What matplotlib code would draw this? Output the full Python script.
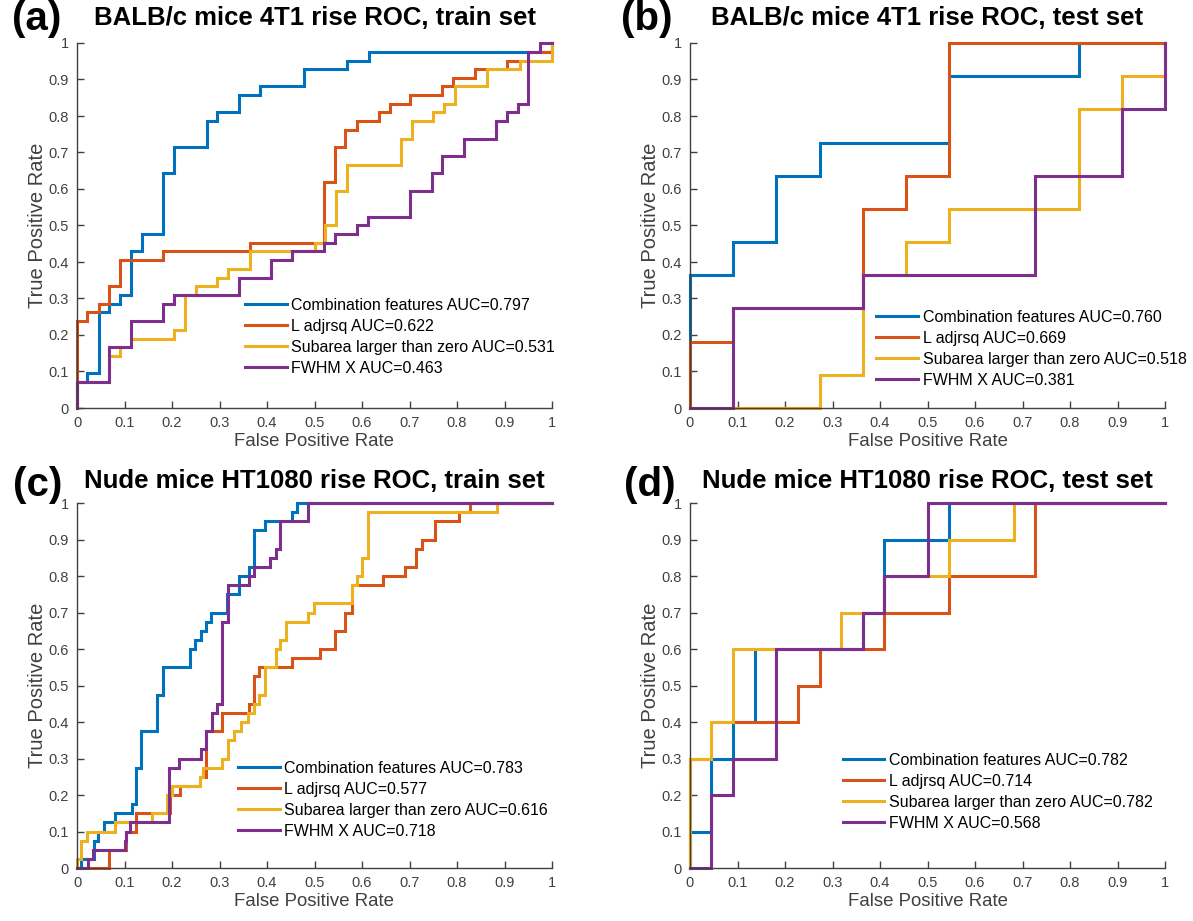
import matplotlib
matplotlib.use("Agg")
import matplotlib.pyplot as plt

plt.rcParams['font.family'] = ['Liberation Sans', 'DejaVu Sans']

# legend labels per panel
a_labels = ["Combination features AUC=0.797", "L adjrsq AUC=0.622",
            "Subarea larger than zero AUC=0.531", "FWHM X AUC=0.463"]
b_labels = ["Combination features AUC=0.760", "L adjrsq AUC=0.669",
            "Subarea larger than zero AUC=0.518", "FWHM X AUC=0.381"]
c_labels = ["Combination features AUC=0.783", "L adjrsq AUC=0.577",
            "Subarea larger than zero AUC=0.616", "FWHM X AUC=0.718"]
d_labels = ["Combination features AUC=0.782", "L adjrsq AUC=0.714",
            "Subarea larger than zero AUC=0.782", "FWHM X AUC=0.568"]

titles = ["BALB/c mice 4T1 rise ROC, train set", "BALB/c mice 4T1 rise ROC, test set",
          "Nude mice HT1080 rise ROC, train set", "Nude mice HT1080 rise ROC, test set"]
panel_tags = ["(a)", "(b)", "(c)", "(d)"]

# ROC step points: fpr where tpr jumps, tpr after the jump
# (a) 4T1 train
a_comb_fpr = [0, 0, 0.02, 0.046, 0.068, 0.091, 0.114, 0.136, 0.182, 0.205, 0.273, 0.295,
              0.341, 0.386, 0.477, 0.568, 0.614, 1]
a_comb_tpr = [0, 0.071, 0.095, 0.262, 0.286, 0.31, 0.429, 0.476, 0.643, 0.714, 0.786, 0.81,
              0.857, 0.881, 0.929, 0.952, 0.976, 1]
a_ladj_fpr = [0, 0, 0.02, 0.046, 0.068, 0.091, 0.182, 0.364, 0.52, 0.543, 0.565, 0.59,
              0.635, 0.658, 0.702, 0.769, 0.792, 0.838, 0.906, 0.95, 1]
a_ladj_tpr = [0, 0.238, 0.262, 0.286, 0.333, 0.405, 0.429, 0.452, 0.619, 0.714, 0.762, 0.786,
              0.81, 0.833, 0.857, 0.881, 0.905, 0.929, 0.952, 0.976, 1]
a_sub_fpr = [0, 0, 0.068, 0.091, 0.114, 0.205, 0.227, 0.25, 0.295, 0.318, 0.364, 0.5,
             0.523, 0.545, 0.568, 0.682, 0.705, 0.75, 0.773, 0.795, 0.864, 0.932, 1]
a_sub_tpr = [0, 0.071, 0.143, 0.167, 0.19, 0.214, 0.31, 0.333, 0.357, 0.381, 0.429, 0.452,
             0.5, 0.595, 0.667, 0.738, 0.786, 0.81, 0.833, 0.881, 0.929, 0.952, 1]
a_fwhm_fpr = [0, 0, 0.068, 0.114, 0.182, 0.205, 0.341, 0.408, 0.453, 0.52, 0.543, 0.59,
              0.612, 0.702, 0.747, 0.769, 0.815, 0.883, 0.906, 0.929, 0.95, 0.974, 1]
a_fwhm_tpr = [0, 0.071, 0.167, 0.238, 0.286, 0.31, 0.357, 0.405, 0.429, 0.452, 0.476, 0.5,
              0.524, 0.595, 0.643, 0.69, 0.738, 0.786, 0.81, 0.833, 0.976, 1, 1]

# (b) 4T1 test
b_comb_fpr = [0, 0, 0.091, 0.182, 0.273, 0.545, 0.818, 1]
b_comb_tpr = [0, 0.364, 0.455, 0.636, 0.727, 0.909, 1, 1]
b_ladj_fpr = [0, 0, 0.091, 0.364, 0.455, 0.545, 1]
b_ladj_tpr = [0, 0.182, 0.273, 0.545, 0.636, 1, 1]
b_sub_fpr = [0, 0.273, 0.364, 0.455, 0.545, 0.818, 0.909, 1]
b_sub_tpr = [0, 0.091, 0.364, 0.455, 0.545, 0.818, 0.909, 1]
b_fwhm_fpr = [0, 0.091, 0.364, 0.727, 0.909, 1]
b_fwhm_tpr = [0, 0.273, 0.364, 0.636, 0.818, 1]

# (c) HT1080 train
c_comb_fpr = [0, 0.008, 0.035, 0.045, 0.057, 0.08, 0.115, 0.124, 0.135, 0.168, 0.18, 0.238,
              0.249, 0.26, 0.271, 0.283, 0.316, 0.34, 0.362, 0.373, 0.396, 0.452, 0.464, 1]
c_comb_tpr = [0, 0.025, 0.075, 0.1, 0.125, 0.15, 0.175, 0.275, 0.375, 0.475, 0.55, 0.6,
              0.625, 0.65, 0.675, 0.7, 0.75, 0.8, 0.825, 0.925, 0.95, 0.975, 1, 1]
c_ladj_fpr = [0, 0.068, 0.104, 0.124, 0.195, 0.216, 0.258, 0.272, 0.305, 0.362, 0.373, 0.384,
              0.452, 0.511, 0.543, 0.565, 0.578, 0.645, 0.691, 0.713, 0.726, 0.754, 0.804,
              0.827, 1]
c_ladj_tpr = [0, 0.05, 0.1, 0.15, 0.2, 0.225, 0.25, 0.375, 0.425, 0.45, 0.525, 0.55,
              0.575, 0.6, 0.65, 0.7, 0.775, 0.8, 0.825, 0.875, 0.9, 0.95, 0.975,
              1, 1]
c_sub_fpr = [0, 0, 0.008, 0.02, 0.08, 0.157, 0.19, 0.2, 0.258, 0.265, 0.305, 0.317, 0.331,
             0.345, 0.361, 0.373, 0.384, 0.395, 0.418, 0.428, 0.441, 0.487, 0.499, 0.578,
             0.59, 0.6, 0.612, 0.885, 1]
c_sub_tpr = [0, 0.025, 0.075, 0.1, 0.125, 0.15, 0.2, 0.225, 0.25, 0.275, 0.3, 0.35, 0.375,
             0.4, 0.425, 0.45, 0.475, 0.55, 0.6, 0.625, 0.675, 0.7, 0.725, 0.775,
             0.8, 0.85, 0.975, 1, 1]
c_fwhm_fpr = [0, 0.023, 0.034, 0.1, 0.104, 0.111, 0.193, 0.215, 0.261, 0.271, 0.284, 0.294,
              0.305, 0.318, 0.362, 0.373, 0.407, 0.419, 0.428, 0.487, 1]
c_fwhm_tpr = [0, 0.025, 0.05, 0.075, 0.1, 0.125, 0.275, 0.3, 0.325, 0.375, 0.425, 0.45,
              0.675, 0.775, 0.8, 0.825, 0.85, 0.875, 0.95, 1, 1]

# (d) HT1080 test
d_comb_fpr = [0, 0, 0.045, 0.091, 0.136, 0.364, 0.409, 0.545, 1]
d_comb_tpr = [0, 0.1, 0.3, 0.4, 0.6, 0.7, 0.9, 1, 1]
d_ladj_fpr = [0, 0, 0.045, 0.227, 0.273, 0.409, 0.545, 0.727, 1]
d_ladj_tpr = [0, 0.3, 0.4, 0.5, 0.6, 0.7, 0.8, 1, 1]
d_sub_fpr = [0, 0, 0.045, 0.091, 0.318, 0.409, 0.545, 0.682, 1]
d_sub_tpr = [0, 0.3, 0.4, 0.6, 0.7, 0.8, 0.9, 1, 1]
d_fwhm_fpr = [0, 0.045, 0.091, 0.182, 0.364, 0.409, 0.5, 1]
d_fwhm_tpr = [0, 0.2, 0.3, 0.6, 0.7, 0.8, 1, 1]

colors = ['#0072BD', '#D95319', '#EDB120', '#7E2F8E']
ticks = [0, 0.1, 0.2, 0.3, 0.4, 0.5, 0.6, 0.7, 0.8, 0.9, 1]
tick_text = ['0', '0.1', '0.2', '0.3', '0.4', '0.5', '0.6', '0.7', '0.8', '0.9', '1']

W, H = 1193, 921
fig = plt.figure(figsize=(W / 100, H / 100), dpi=100)

# axes rectangles in pixels: left, top, width, height
boxes = [(77, 43, 475, 365), (690, 43, 475, 365), (77, 503, 475, 365), (690, 503, 475, 365)]
legend_anchor = [(0.354, 0.302), (0.392, 0.269), (0.339, 0.294), (0.322, 0.316)]
tag_pos = [(37, 19), (647, 19), (38, 485), (650, 485)]
title_y = [18, 18, 481, 481]

curves = [
    [(a_comb_fpr, a_comb_tpr), (a_ladj_fpr, a_ladj_tpr), (a_sub_fpr, a_sub_tpr), (a_fwhm_fpr, a_fwhm_tpr)],
    [(b_comb_fpr, b_comb_tpr), (b_ladj_fpr, b_ladj_tpr), (b_sub_fpr, b_sub_tpr), (b_fwhm_fpr, b_fwhm_tpr)],
    [(c_comb_fpr, c_comb_tpr), (c_ladj_fpr, c_ladj_tpr), (c_sub_fpr, c_sub_tpr), (c_fwhm_fpr, c_fwhm_tpr)],
    [(d_comb_fpr, d_comb_tpr), (d_ladj_fpr, d_ladj_tpr), (d_sub_fpr, d_sub_tpr), (d_fwhm_fpr, d_fwhm_tpr)],
]
all_labels = [a_labels, b_labels, c_labels, d_labels]

axis_grey = '#404040'

for i in range(4):
    l, t, w, h = boxes[i]
    ax = fig.add_axes([l / W, 1 - (t + h) / H, w / W, h / H])
    for k in range(4):
        fpr, tpr = curves[i][k]
        ax.step(fpr, tpr, where='post', color=colors[k], lw=2.2,
                label=all_labels[i][k], clip_on=False, solid_joinstyle='miter')
    ax.set_xlim(0, 1)
    ax.set_ylim(0, 1)
    ax.set_xticks(ticks)
    ax.set_yticks(ticks)
    ax.set_xticklabels(tick_text)
    ax.set_yticklabels(tick_text)
    ax.tick_params(direction='in', length=5, width=1, colors=axis_grey,
                   labelsize=10.5, pad=6)
    for s in ['top', 'right']:
        ax.spines[s].set_visible(False)
    for s in ['left', 'bottom']:
        ax.spines[s].set_color(axis_grey)
        ax.spines[s].set_linewidth(1)
    ax.set_xlabel('False Positive Rate', fontsize=13.4, color=axis_grey, labelpad=2)
    ax.set_ylabel('True Positive Rate', fontsize=14.5, color=axis_grey, labelpad=1)
    ax.legend(loc='upper left', bbox_to_anchor=legend_anchor[i], frameon=False,
              fontsize=11.5, handlelength=2.6, handletextpad=0.3, labelspacing=0.38,
              borderpad=0, borderaxespad=0)
    fig.text((l + w / 2) / W, 1 - title_y[i] / H, titles[i], ha='center', va='center',
             fontsize=18.5, fontweight='bold')
    tx, ty = tag_pos[i]
    fig.text(tx / W, 1 - ty / H, panel_tags[i], ha='center', va='center',
             fontsize=29, fontweight='bold')

fig.savefig('out.png', dpi=100)
